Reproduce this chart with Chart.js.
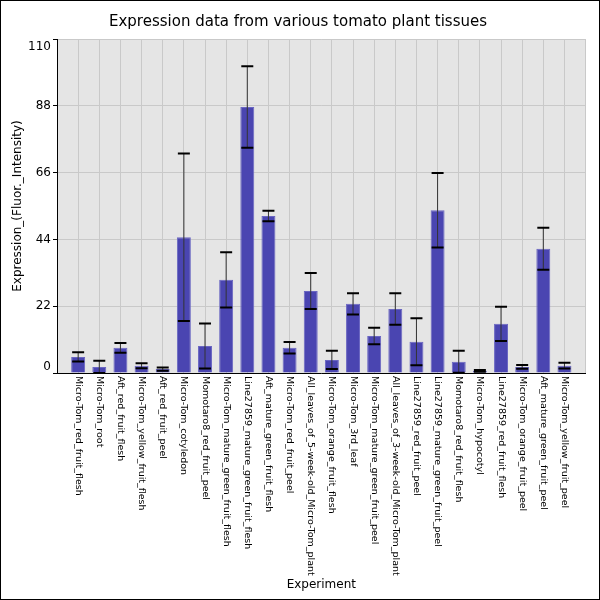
<!DOCTYPE html>
<html>
<head>
<meta charset="utf-8">
<script src="https://cdn.jsdelivr.net/npm/chart.js@4.4.1/dist/chart.umd.min.js"></script>
<style>
  html, body { margin: 0; padding: 0; background: #fff; }
  #wrap { width: 600px; height: 600px; }
</style>
</head>
<body>
<div id="wrap"><canvas id="myChart" width="600" height="600"></canvas></div>
<script>
// Data
const experiments = [
  'Micro-Tom_red_fruit_flesh',
  'Micro-Tom_root',
  'Aft_red_fruit_flesh',
  'Micro-Tom_yellow_fruit_flesh',
  'Aft_red_fruit_peel',
  'Micro-Tom_cotyledon',
  'Momotaro8_red_fruit_peel',
  'Micro-Tom_mature_green_fruit_flesh',
  'Line27859_mature_green_fruit_flesh',
  'Aft_mature_green_fruit_flesh',
  'Micro-Tom_red_fruit_peel',
  'All_leaves_of_5-week-old_Micro-Tom_plant',
  'Micro-Tom_orange_fruit_flesh',
  'Micro-Tom_3rd_leaf',
  'Micro-Tom_mature_green_fruit_peel',
  'All_leaves_of_3-week-old_Micro-Tom_plant',
  'Line27859_red_fruit_peel',
  'Line27859_mature_green_fruit_peel',
  'Momotaro8_red_fruit_flesh',
  'Micro-Tom_hypocotyl',
  'Line27859_red_fruit_flesh',
  'Micro-Tom_orange_fruit_peel',
  'Aft_mature_green_fruit_peel',
  'Micro-Tom_yellow_fruit_peel'
]
const expression = [5.3, 2.0, 8.3, 2.4, 1.3, 44.7, 8.9, 30.7, 87.6, 51.7, 8.3, 27.0,
  4.3, 22.8, 12.2, 21.1, 10.3, 53.6, 3.7, 0.7, 16.2, 2.0, 40.9, 2.4]
const errors = [1.5, 2.0, 1.6, 0.85, 0.55, 27.6, 7.4, 9.1, 13.4, 1.75, 1.9, 5.9,
  3.0, 3.5, 2.7, 5.2, 7.75, 12.3, 3.6, 0.3, 5.65, 0.6, 6.9, 0.95]
const yTicks = [0, 22, 44, 66, 88, 110]

const FONT = 'DejaVu Sans'

// grey plot background + outer frame
const frame = {
  id: 'frame',
  beforeDraw(chart) {
    const { ctx, chartArea: a } = chart
    ctx.save()
    ctx.fillStyle = '#e5e5e5'
    ctx.fillRect(a.left, a.top, a.right - a.left, a.bottom - a.top)
    ctx.restore()

    // x labels read top-to-bottom, centred on their bar
    const xs = chart.scales.x
    for (const item of xs.getLabelItems()) {
      const idx = experiments.indexOf(item.label)
      if (idx < 0) continue
      item.options.rotation = Math.PI / 2
      item.options.textAlign = 'left'
      item.options.textBaseline = 'middle'
      item.options.translation[0] = xs.getPixelForValue(idx + 1)
      item.textOffset = 0
    }
    // keep the end y labels inside the plot
    const ys = chart.scales.y
    for (const item of ys.getLabelItems()) {
      if (item.label === '0') item.options.textBaseline = 'bottom'
      if (item.label === '110') {
        item.options.textBaseline = 'top'
        item.options.translation[1] = ys.getPixelForValue(110) + 2
      }
    }
  },
  afterDraw(chart) {
    const { ctx } = chart
    ctx.save()
    ctx.strokeStyle = '#000'
    ctx.lineWidth = 1
    ctx.strokeRect(0.5, 0.5, chart.width - 1, chart.height - 1)
    ctx.restore()
  }
}

// error bars
const errorBars = {
  id: 'errorBars',
  afterDatasetsDraw(chart) {
    const { ctx } = chart
    const ys = chart.scales.y
    const meta = chart.getDatasetMeta(0)
    ctx.save()
    meta.data.forEach((bar, i) => {
      const x = bar.x
      const top = ys.getPixelForValue(expression[i] + errors[i])
      const bot = ys.getPixelForValue(Math.max(0, expression[i] - errors[i]))
      ctx.strokeStyle = '#333'
      ctx.lineWidth = 1
      ctx.beginPath()
      ctx.moveTo(x, top)
      ctx.lineTo(x, bot)
      ctx.stroke()
      ctx.strokeStyle = '#000'
      ctx.lineWidth = 2
      ctx.beginPath()
      ctx.moveTo(x - 6, top)
      ctx.lineTo(x + 6, top)
      ctx.moveTo(x - 6, bot)
      ctx.lineTo(x + 6, bot)
      ctx.stroke()
    })
    ctx.restore()
  }
}

const ctx = document.getElementById('myChart')
new Chart(ctx, {
  type: 'bar',
  data: {
    datasets: [{
      data: expression.map((v, i) => ({ x: i + 1, y: v })),
      backgroundColor: '#4a45b1',
      borderColor: '#6a66c2',
      borderWidth: 1,
      barPercentage: 0.66,
      categoryPercentage: 1
    }]
  },
  plugins: [frame, errorBars],
  options: {
    responsive: false,
    animation: false,
    events: [],
    layout: { padding: { left: 0, right: 4, top: 0, bottom: 0 } },
    plugins: {
      legend: { display: false },
      tooltip: { enabled: false },
      title: {
        display: true,
        text: 'Expression data from various tomato plant tissues',
        color: '#000',
        font: { family: FONT, size: 15, weight: 'normal' },
        padding: { top: 13, bottom: 8 }
      }
    },
    scales: {
      x: {
        type: 'linear',
        offset: false,
        min: 0,
        max: experiments.length + 1,
        afterBuildTicks(scale) {
          scale.ticks = []
          for (let i = 0; i <= experiments.length + 1; i++) scale.ticks.push({ value: i })
        },
        ticks: {
          autoSkip: false,
          minRotation: 90,
          maxRotation: 90,
          padding: 3,
          color: '#000',
          font: { family: FONT, size: 9.5 },
          callback: (v) => experiments[v - 1] || ''
        },
        grid: { color: '#c9c9c9', drawTicks: false, offset: false },
        border: { color: '#000', width: 1 },
        title: {
          display: true,
          text: 'Experiment',
          color: '#000',
          font: { family: FONT, size: 12 },
          padding: { top: 4, bottom: 8 }
        },
        afterFit(scale) { scale.height = 227 }
      },
      y: {
        min: 0,
        max: 110,
        afterBuildTicks(scale) {
          scale.ticks = yTicks.map(v => ({ value: v }))
        },
        ticks: {
          padding: 2,
          color: '#000',
          font: { family: FONT, size: 12 }
        },
        grid: { color: '#c9c9c9', tickColor: '#000', tickLength: 4 },
        border: { color: '#000', width: 1 },
        title: {
          display: true,
          text: 'Expression_(Fluor._Intensity)',
          color: '#000',
          font: { family: FONT, size: 12 },
          padding: { top: 11, bottom: 4 }
        },
        afterFit(scale) { scale.width = 57 }
      }
    }
  }
})
</script>
</body>
</html>
